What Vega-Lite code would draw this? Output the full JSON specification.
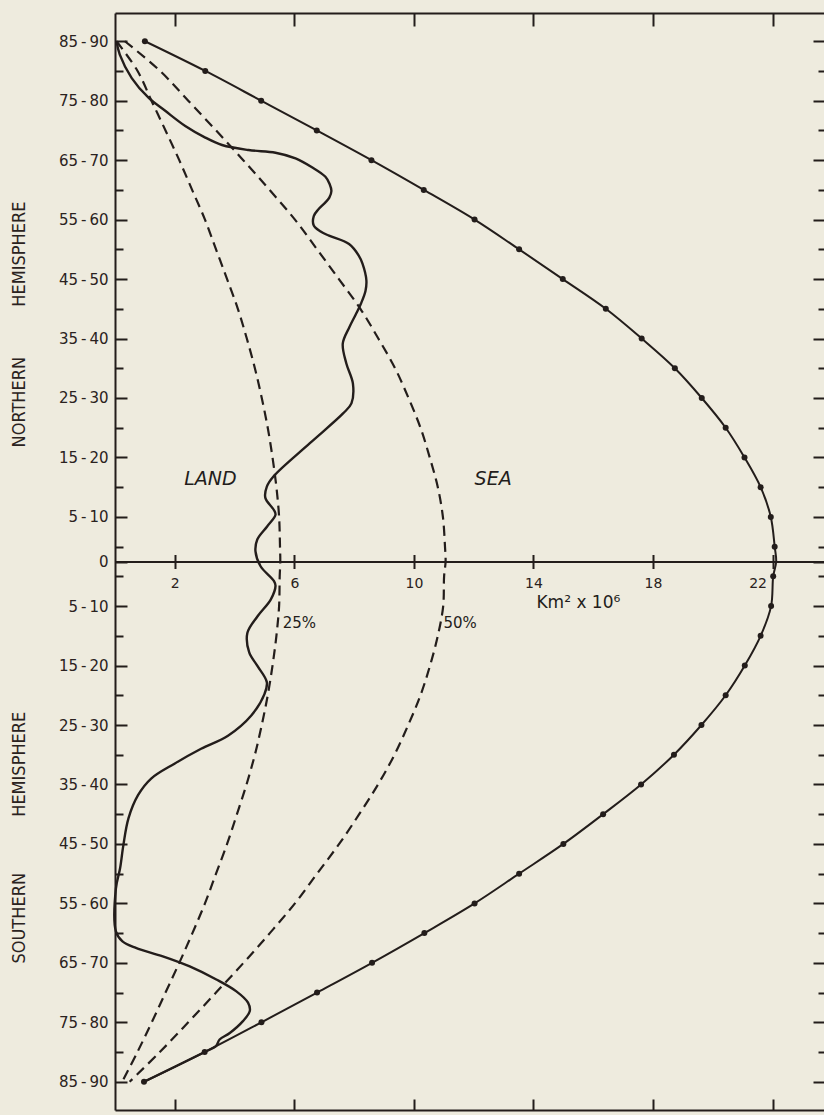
{
  "$schema": "https://vega.github.io/schema/vega-lite/v6.json",
  "width": 709,
  "height": 1097,
  "autosize": "none",
  "padding": {"left": 115, "top": 13, "right": 0, "bottom": 5},
  "background": "#eeebde",
  "config": {
    "view": {"stroke": null},
    "axis": {
      "grid": false,
      "domainColor": "#231d1b",
      "domainWidth": 2,
      "tickColor": "#231d1b",
      "tickWidth": 2,
      "labelColor": "#2a2220",
      "labelFont": "DejaVu Sans"
    }
  },
  "datasets": {
    "band": [
      {"lat": 87.5, "total": 1.0, "p25": 0.05, "p50": 0.33},
      {"lat": 82.5, "total": 3.02, "p25": 0.755, "p50": 1.51},
      {"lat": 77.5, "total": 4.89, "p25": 1.22, "p50": 2.45},
      {"lat": 72.5, "total": 6.75, "p25": 1.69, "p50": 3.38},
      {"lat": 67.5, "total": 8.58, "p25": 2.15, "p50": 4.29},
      {"lat": 62.5, "total": 10.33, "p25": 2.58, "p50": 5.17},
      {"lat": 57.5, "total": 12.03, "p25": 3.01, "p50": 6.02},
      {"lat": 52.5, "total": 13.52, "p25": 3.38, "p50": 6.76},
      {"lat": 47.5, "total": 14.98, "p25": 3.75, "p50": 7.49},
      {"lat": 42.5, "total": 16.42, "p25": 4.11, "p50": 8.21},
      {"lat": 37.5, "total": 17.62, "p25": 4.41, "p50": 8.81},
      {"lat": 32.5, "total": 18.73, "p25": 4.68, "p50": 9.37},
      {"lat": 27.5, "total": 19.63, "p25": 4.91, "p50": 9.82},
      {"lat": 22.5, "total": 20.43, "p25": 5.11, "p50": 10.22},
      {"lat": 17.5, "total": 21.06, "p25": 5.27, "p50": 10.53},
      {"lat": 12.5, "total": 21.6, "p25": 5.4, "p50": 10.8},
      {"lat": 7.5, "total": 21.94, "p25": 5.49, "p50": 10.97},
      {"lat": 2.5, "total": 22.07, "p25": 5.52, "p50": 11.04},
      {"lat": 0, "total": 22.12, "p25": 5.53, "p50": 11.06},
      {"lat": -2.5, "total": 22.02, "p25": 5.51, "p50": 11.01},
      {"lat": -7.5, "total": 21.95, "p25": 5.49, "p50": 10.98},
      {"lat": -12.5, "total": 21.6, "p25": 5.4, "p50": 10.8},
      {"lat": -17.5, "total": 21.07, "p25": 5.27, "p50": 10.54},
      {"lat": -22.5, "total": 20.43, "p25": 5.11, "p50": 10.22},
      {"lat": -27.5, "total": 19.62, "p25": 4.91, "p50": 9.81},
      {"lat": -32.5, "total": 18.7, "p25": 4.68, "p50": 9.35},
      {"lat": -37.5, "total": 17.6, "p25": 4.4, "p50": 8.8},
      {"lat": -42.5, "total": 16.33, "p25": 4.08, "p50": 8.17},
      {"lat": -47.5, "total": 15.0, "p25": 3.75, "p50": 7.5},
      {"lat": -52.5, "total": 13.52, "p25": 3.38, "p50": 6.76},
      {"lat": -57.5, "total": 12.03, "p25": 3.01, "p50": 6.02},
      {"lat": -62.5, "total": 10.35, "p25": 2.59, "p50": 5.18},
      {"lat": -67.5, "total": 8.6, "p25": 2.15, "p50": 4.3},
      {"lat": -72.5, "total": 6.76, "p25": 1.69, "p50": 3.38},
      {"lat": -77.5, "total": 4.9, "p25": 1.23, "p50": 2.45},
      {"lat": -82.5, "total": 3.0, "p25": 0.75, "p50": 1.5},
      {"lat": -87.5, "total": 0.97, "p25": 0.24, "p50": 0.49}
    ],
    "land": [
      {"lat": 87.5, "area": 0.05},
      {"lat": 85.25, "area": 0.16},
      {"lat": 81.3, "area": 0.56},
      {"lat": 78.0, "area": 1.12},
      {"lat": 75.8, "area": 1.68},
      {"lat": 73.25, "area": 2.35},
      {"lat": 71.3, "area": 3.02},
      {"lat": 70.05, "area": 3.58},
      {"lat": 69.2, "area": 4.47},
      {"lat": 68.75, "area": 5.37},
      {"lat": 67.8, "area": 6.04},
      {"lat": 66.3, "area": 6.59},
      {"lat": 64.7, "area": 7.04},
      {"lat": 63.5, "area": 7.18},
      {"lat": 62.3, "area": 7.24},
      {"lat": 61.2, "area": 7.17},
      {"lat": 60.4, "area": 7.04},
      {"lat": 59.2, "area": 6.8},
      {"lat": 58.1, "area": 6.65},
      {"lat": 56.5, "area": 6.65},
      {"lat": 55.5, "area": 6.88},
      {"lat": 54.8, "area": 7.16},
      {"lat": 53.4, "area": 7.83},
      {"lat": 51.5, "area": 8.15},
      {"lat": 50.1, "area": 8.28},
      {"lat": 47.3, "area": 8.41},
      {"lat": 45.5, "area": 8.38},
      {"lat": 43.4, "area": 8.23},
      {"lat": 41.5, "area": 8.05},
      {"lat": 39.4, "area": 7.84},
      {"lat": 36.65, "area": 7.62},
      {"lat": 33.3, "area": 7.74},
      {"lat": 29.9, "area": 7.96},
      {"lat": 26.6, "area": 7.91},
      {"lat": 24.9, "area": 7.63},
      {"lat": 19.9, "area": 6.52},
      {"lat": 14.3, "area": 5.3},
      {"lat": 12.6, "area": 5.08},
      {"lat": 10.7, "area": 5.03},
      {"lat": 8.7, "area": 5.31},
      {"lat": 7.9, "area": 5.37},
      {"lat": 5.9, "area": 5.09},
      {"lat": 3.7, "area": 4.76},
      {"lat": 1.7, "area": 4.7},
      {"lat": -0.8, "area": 4.87},
      {"lat": -3.3, "area": 5.32},
      {"lat": -4.1, "area": 5.37},
      {"lat": -6.4, "area": 5.21},
      {"lat": -9.2, "area": 4.77},
      {"lat": -12.0, "area": 4.43},
      {"lat": -15.3, "area": 4.49},
      {"lat": -17.6, "area": 4.77},
      {"lat": -20.3, "area": 5.08},
      {"lat": -22.3, "area": 5.0},
      {"lat": -25.9, "area": 4.56},
      {"lat": -29.3, "area": 3.78},
      {"lat": -31.5, "area": 2.88},
      {"lat": -34.0, "area": 1.99},
      {"lat": -36.5, "area": 1.21},
      {"lat": -39.3, "area": 0.77},
      {"lat": -43.2, "area": 0.45},
      {"lat": -47.7, "area": 0.28},
      {"lat": -51.6, "area": 0.17},
      {"lat": -55.0, "area": 0.03},
      {"lat": -62.2, "area": 0.03},
      {"lat": -63.9, "area": 0.25},
      {"lat": -65.0, "area": 0.7},
      {"lat": -66.4, "area": 1.6},
      {"lat": -68.1, "area": 2.5},
      {"lat": -70.3, "area": 3.39},
      {"lat": -72.3, "area": 4.06},
      {"lat": -74.2, "area": 4.45},
      {"lat": -75.6, "area": 4.51},
      {"lat": -77.3, "area": 4.28},
      {"lat": -79.3, "area": 3.84},
      {"lat": -80.4, "area": 3.5},
      {"lat": -81.5, "area": 3.38},
      {"lat": -82.5, "area": 3.0},
      {"lat": -87.5, "area": 0.97}
    ]
  },
  "layer": [
    {
      "data": {"name": "band"},
      "mark": {"type": "line", "interpolate": "catmull-rom", "color": "#231d1b", "strokeWidth": 2},
      "encoding": {
        "x": {"field": "total", "type": "quantitative", "scale": {"domain": [0, 23.72], "nice": false, "zero": false},
          "axis": {"orient": "top", "title": null, "labels": false, "domain": true, "ticks": true, "tickSize": -13, "values": [2, 6, 10, 14, 18, 22]}},
        "y": {"field": "lat", "type": "quantitative", "scale": {"domain": [-92.25, 92.25], "nice": false, "zero": false},
          "axis": {"orient": "left", "title": null, "ticks": false, "domain": true, "labels": true, "labelPadding": 7, "labelFontSize": 15,
            "values": [87.5, 77.5, 67.5, 57.5, 47.5, 37.5, 27.5, 17.5, 7.5, 0, -7.5, -17.5, -27.5, -37.5, -47.5, -57.5, -67.5, -77.5, -87.5],
            "labelExpr": "datum.value == 0 ? '0' : format(abs(datum.value) - 2.5, 'd') + '\u2009-\u2009' + format(abs(datum.value) + 2.5, 'd')"}},
        "order": {"field": "lat", "sort": "descending"}
      }
    },
    {
      "data": {"name": "band"},
      "transform": [{"filter": "datum.lat != 0"}],
      "mark": {"type": "point", "filled": true, "size": 36, "color": "#231d1b", "opacity": 1},
      "encoding": {
        "x": {"field": "total", "type": "quantitative", "scale": {"domain": [0, 23.72], "nice": false, "zero": false},
          "axis": {"orient": "bottom", "title": null, "labels": false, "domain": true, "ticks": true, "tickSize": -11, "values": [2, 6, 10, 14, 18, 22]}},
        "y": {"field": "lat", "type": "quantitative", "scale": {"domain": [-92.25, 92.25], "nice": false, "zero": false},
          "axis": {"orient": "left", "title": null, "labels": false, "domain": false, "ticks": true, "tickSize": -12,
            "values": [87.5, 77.5, 67.5, 57.5, 47.5, 37.5, 27.5, 17.5, 7.5, 0, -7.5, -17.5, -27.5, -37.5, -47.5, -57.5, -67.5, -77.5, -87.5]}}
      }
    },
    {
      "data": {"name": "land"},
      "mark": {"type": "line", "interpolate": "catmull-rom", "color": "#231d1b", "strokeWidth": 2.4},
      "encoding": {
        "x": {"field": "area", "type": "quantitative", "scale": {"domain": [0, 23.72], "nice": false, "zero": false},
          "axis": {"orient": "bottom", "offset": -548.5, "title": null, "domain": true, "ticks": true, "tickSize": 7, "labels": true,
            "labelPadding": 8, "labelFontSize": 14, "labelFlush": false, "values": [2, 6, 10, 14, 18, 22],
            "labelOffset": {"condition": {"test": "datum.value == 22", "value": -15}, "value": 0}}},
        "y": {"field": "lat", "type": "quantitative", "scale": {"domain": [-92.25, 92.25], "nice": false, "zero": false},
          "axis": {"orient": "left", "title": null, "labels": false, "domain": false, "ticks": true, "tickSize": -8,
            "values": [82.5, 72.5, 62.5, 52.5, 42.5, 32.5, 22.5, 12.5, 2.5, -2.5, -12.5, -22.5, -32.5, -42.5, -52.5, -62.5, -72.5, -82.5]}},
        "order": {"field": "lat", "sort": "descending"}
      }
    },
    {
      "data": {"name": "band"},
      "mark": {"type": "line", "interpolate": "catmull-rom", "color": "#231d1b", "strokeWidth": 2.2, "strokeDash": [10, 6]},
      "encoding": {
        "x": {"field": "p25", "type": "quantitative", "scale": {"domain": [0, 23.72], "nice": false, "zero": false},
          "axis": {"orient": "top", "offset": -548.5, "title": null, "domain": false, "labels": false, "ticks": true, "tickSize": 7, "values": [2, 6, 10, 14, 18, 22]}},
        "y": {"field": "lat", "type": "quantitative", "scale": {"domain": [-92.25, 92.25], "nice": false, "zero": false},
          "axis": {"orient": "right", "title": null, "labels": false, "domain": false, "ticks": true, "tickSize": -11,
            "values": [87.5, 77.5, 67.5, 57.5, 47.5, 37.5, 27.5, 17.5, 7.5, 0, -7.5, -17.5, -27.5, -37.5, -47.5, -57.5, -67.5, -77.5, -87.5]}},
        "order": {"field": "lat", "sort": "descending"}
      }
    },
    {
      "data": {"name": "band"},
      "mark": {"type": "line", "interpolate": "catmull-rom", "color": "#231d1b", "strokeWidth": 2.2, "strokeDash": [10, 6]},
      "encoding": {
        "x": {"field": "p50", "type": "quantitative", "scale": {"domain": [0, 23.72], "nice": false, "zero": false}, "axis": null},
        "y": {"field": "lat", "type": "quantitative", "scale": {"domain": [-92.25, 92.25], "nice": false, "zero": false},
          "axis": {"orient": "right", "title": null, "labels": false, "domain": false, "ticks": true, "tickSize": -6,
            "values": [82.5, 72.5, 62.5, 52.5, 42.5, 32.5, 22.5, 12.5, 2.5, -2.5, -12.5, -22.5, -32.5, -42.5, -52.5, -62.5, -72.5, -82.5]}},
        "order": {"field": "lat", "sort": "descending"}
      }
    },
    {
      "data": {"values": [
        {"name": "LAND", "km": 3.19, "lat": 13.9},
        {"name": "SEA", "km": 12.65, "lat": 13.9}
      ]},
      "mark": {"type": "text", "font": "DejaVu Sans", "fontSize": 19, "fontStyle": "italic", "align": "center", "baseline": "middle", "color": "#231d1b"},
      "encoding": {
        "x": {"field": "km", "type": "quantitative", "scale": {"domain": [0, 23.72], "nice": false, "zero": false}, "axis": null},
        "y": {"field": "lat", "type": "quantitative", "scale": {"domain": [-92.25, 92.25], "nice": false, "zero": false}, "axis": null},
        "text": {"field": "name"}
      }
    },
    {
      "data": {"values": [
        {"name": "25%", "km": 5.61, "lat": -10.3},
        {"name": "50%", "km": 10.99, "lat": -10.3}
      ]},
      "mark": {"type": "text", "font": "DejaVu Sans", "fontSize": 15, "align": "left", "baseline": "middle", "color": "#231d1b"},
      "encoding": {
        "x": {"field": "km", "type": "quantitative", "scale": {"domain": [0, 23.72], "nice": false, "zero": false}, "axis": null},
        "y": {"field": "lat", "type": "quantitative", "scale": {"domain": [-92.25, 92.25], "nice": false, "zero": false}, "axis": null},
        "text": {"field": "name"}
      }
    },
    {
      "data": {"values": [
        {"name": "Km² x 10⁶", "km": 14.1, "lat": -7.0}
      ]},
      "mark": {"type": "text", "font": "DejaVu Sans", "fontSize": 17, "align": "left", "baseline": "middle", "color": "#231d1b"},
      "encoding": {
        "x": {"field": "km", "type": "quantitative", "scale": {"domain": [0, 23.72], "nice": false, "zero": false}, "axis": null},
        "y": {"field": "lat", "type": "quantitative", "scale": {"domain": [-92.25, 92.25], "nice": false, "zero": false}, "axis": null},
        "text": {"field": "name"}
      }
    },
    {
      "data": {"values": [
        {"name": "HEMISPHERE", "km": -3.18, "lat": 51.7},
        {"name": "NORTHERN", "km": -3.18, "lat": 26.8},
        {"name": "HEMISPHERE", "km": -3.18, "lat": -34.1},
        {"name": "SOUTHERN", "km": -3.18, "lat": -60.0}
      ]},
      "mark": {"type": "text", "font": "DejaVu Sans Condensed, DejaVu Sans", "fontSize": 18, "angle": 270, "align": "center", "baseline": "middle", "color": "#2a2220"},
      "encoding": {
        "x": {"field": "km", "type": "quantitative", "scale": {"domain": [0, 23.72], "nice": false, "zero": false}, "axis": null},
        "y": {"field": "lat", "type": "quantitative", "scale": {"domain": [-92.25, 92.25], "nice": false, "zero": false}, "axis": null},
        "text": {"field": "name"}
      }
    }
  ],
  "resolve": {"axis": {"x": "independent", "y": "independent"}}
}
